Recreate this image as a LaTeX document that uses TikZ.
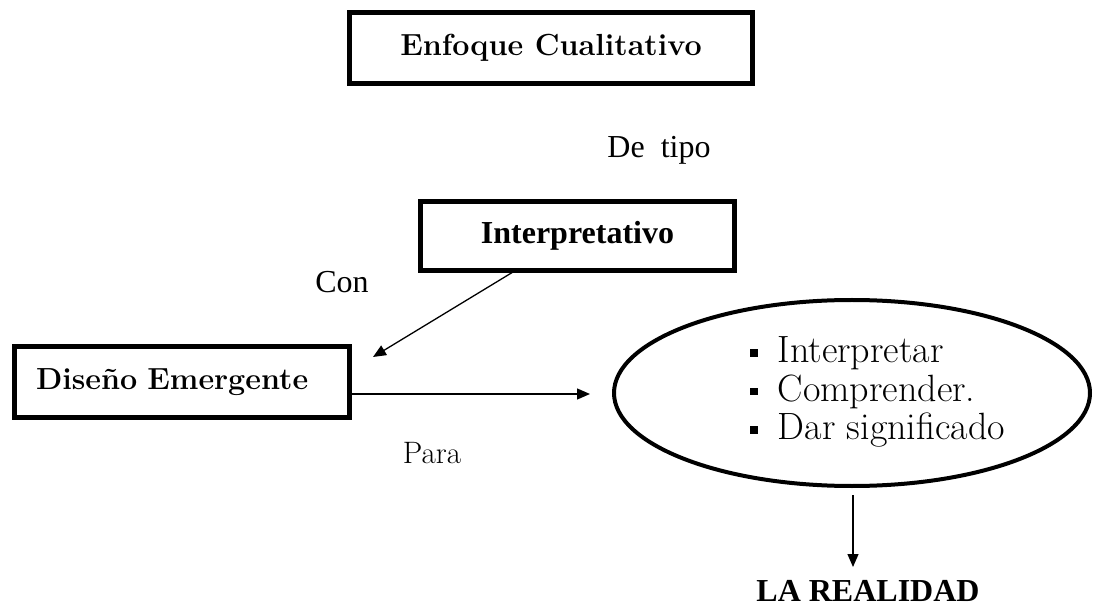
\documentclass[tikz,border=0pt]{standalone}
\usepackage{fontspec}
\usetikzlibrary{shapes.geometric,arrows.meta}
\newfontfamily\tnr{Liberation Serif}
\newcommand{\sqbul}{\raisebox{6pt}{\rule{7.5pt}{7.5pt}}\hspace{20pt}}
\begin{document}
\begin{tikzpicture}[x=1pt,y=-1pt,
  thickbox/.style={draw,line width=5pt,inner sep=0pt},
  arr/.style={line width=1.3pt,-{Triangle[length=13pt,width=11pt]}},
  lmb/.style={font=\fontsize{30.5}{34}\selectfont\bfseries},
  tnrr/.style={font=\fontsize{32}{36}\selectfont\tnr},
  tnrb/.style={font=\fontsize{32}{36}\selectfont\tnr\bfseries}]
\useasboundingbox (0,0) rectangle (1093,612);
\node[thickbox,lmb,minimum width=403pt,minimum height=71pt] (enf) at (551,48) {Enfoque Cualitativo};
\node[tnrr] (detipo) at (659,150) {De\ \ tipo};
\node[thickbox,tnrb,minimum width=314pt,minimum height=69pt] (int) at (577.5,236) {Interpretativo};
\node[tnrr] (con) at (342,282) {Con};
\node[thickbox,lmb,minimum width=335pt,minimum height=71pt,text width=292pt,align=left,inner xsep=21.5pt] (dis) at (182,382) {Diseño Emergente};
\node[draw,ellipse,line width=4pt,minimum width=476pt,minimum height=186pt,inner sep=0pt] (ell) at (852,393) {};
\node[anchor=west,inner sep=0pt,align=left,font=\fontsize{38}{38.5}\selectfont] (lst) at (750,392)
  {\sqbul Interpretar\\ \sqbul Comprender.\\ \sqbul Dar significado};
\node[font=\fontsize{31}{34}\selectfont] (para) at (432,453) {Para};
\node[tnrb,inner sep=2pt] (real) at (868,591) {LA REALIDAD};
\coordinate (p1) at (373,357);
\coordinate (p2) at (590,394);
\coordinate (p3) at (853,567);
\coordinate (q1) at (513,272);
\coordinate (q2) at (352,394);
\coordinate (q3) at (853,495);
\draw[arr] (q1) -- (p1);
\draw[arr] (q2) -- (p2);
\draw[arr] (q3) -- (p3);
\end{tikzpicture}
\end{document}
